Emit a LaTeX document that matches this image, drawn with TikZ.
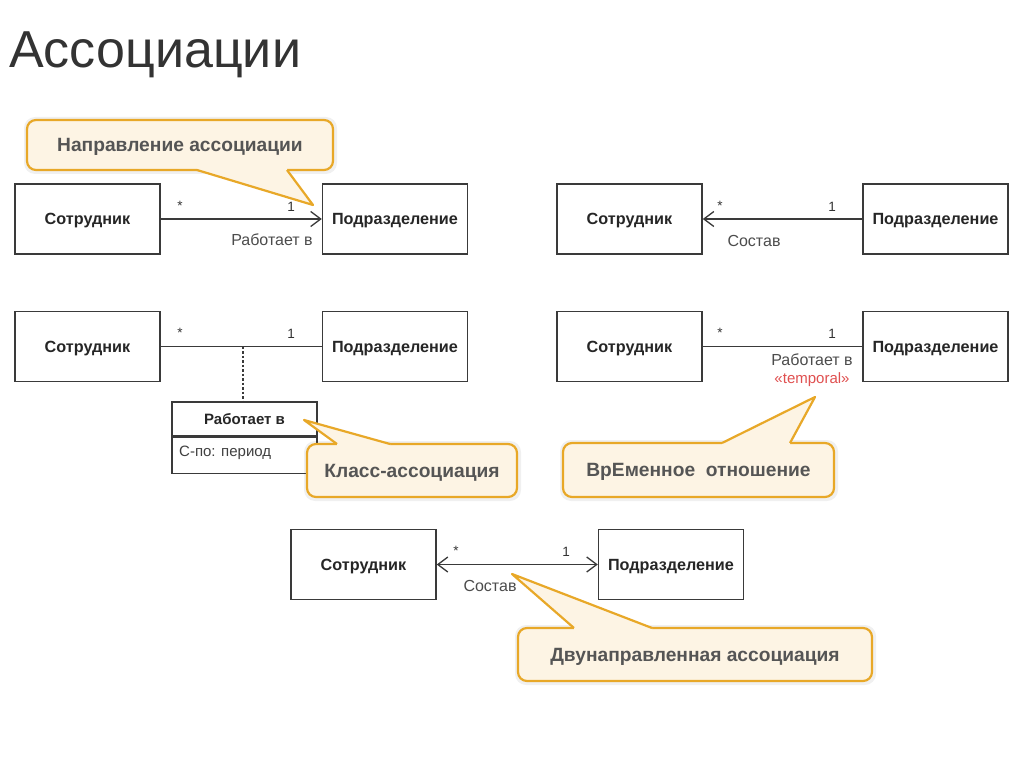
\documentclass[tikz,border=0pt]{standalone}
\usepackage{fontspec}
\setmainfont{Liberation Sans}
\usetikzlibrary{arrows.meta}
\definecolor{lineclr}{HTML}{3A3A3A}
\definecolor{callbd}{HTML}{E8A828}
\definecolor{callfl}{HTML}{FDF4E4}
\definecolor{calltx}{HTML}{555555}
\definecolor{titleclr}{HTML}{333333}
\definecolor{tempred}{HTML}{E05050}
\begin{document}
\begin{tikzpicture}[x=1pt,y=-1pt,
 cls/.style={draw=lineclr, line width=1.5pt, minimum width=145pt, minimum height=70pt, inner sep=0pt, text depth=0pt, font=\fontsize{16.2}{19}\selectfont\bfseries, text=black!85},
 assocline/.style={draw=lineclr, line width=1.4pt},
 navarrow/.style={-{Straight Barb[length=10pt,width=15pt,line width=1.3pt]}},
 bothnav/.style={{Straight Barb[length=10pt,width=15pt,line width=1.3pt]}-{Straight Barb[length=10pt,width=15pt,line width=1.3pt]}},
 lbl/.style={font=\fontsize{16}{19}\selectfont, text=black!70, inner sep=0pt},
 mult/.style={font=\fontsize{13.5}{16}\selectfont, text=black!80, inner sep=0pt},
 callout/.style={draw=callbd, fill=callfl, line width=2.2pt, rounded corners=9pt, inner sep=0pt, text depth=0pt, font=\fontsize{19.2}{23}\selectfont\bfseries, text=calltx},
 ptrfill/.style={fill=callfl},
 ptrline/.style={draw=callbd, line width=2.2pt, line join=round},
 shadowbox/.style={fill=black, opacity=0.06, rounded corners=11pt},
]
\useasboundingbox[fill=white] (0,0) rectangle (1024,767);

% title
\node[anchor=base west, inner sep=0pt, font=\fontsize{52}{60}\selectfont, text=titleclr] (title) at (9,68) {Ассоциации};

% row 1 left
\node[cls] (s1) at (87.5,219) {Сотрудник};
\node[cls] (p1) at (395,219) {Подразделение};
\draw[assocline, navarrow] (s1.east) -- (p1.west);
\node[mult] (s1m) at (180,206) {*};
\node[mult] (p1m) at (291,207) {1};
\node[lbl] (l1) at (272,240) {Работает в};

% row 1 right
\node[cls] (s2) at (629.5,219) {Сотрудник};
\node[cls] (p2) at (935.5,219) {Подразделение};
\draw[assocline, navarrow] (p2.west) -- (s2.east);
\node[mult] (s2m) at (720,206) {*};
\node[mult] (p2m) at (832,207) {1};
\node[lbl] (l2) at (754,241) {Состав};

% row 2 left
\node[cls] (s3) at (87.5,346.5) {Сотрудник};
\node[cls] (p3) at (395,346.5) {Подразделение};
\draw[assocline] (s3.east) -- coordinate[pos=0.51] (m3) (p3.west);
\node[mult] (s3m) at (180,333) {*};
\node[mult] (p3m) at (291,334) {1};
\node[draw=lineclr, line width=1.5pt, minimum width=145pt, minimum height=34pt, inner sep=0pt, text depth=0pt, font=\fontsize{15}{18}\selectfont\bfseries, text=black!85] (ahead) at (244.5,419) {Работает в};
\node[draw=lineclr, line width=1.5pt, minimum width=145pt, minimum height=36pt, inner sep=0pt, anchor=north] (abody) at (ahead.south) {};
\node[lbl, anchor=west, text=black!75, font=\fontsize{15}{18}\selectfont] (aattr) at (179,453) {С-по: период};
\draw[assocline, dashed, dash pattern=on 2.5pt off 2pt] (m3) -- (m3 |- ahead.north);

% row 2 right
\node[cls] (s4) at (629.5,346.5) {Сотрудник};
\node[cls] (p4) at (935.5,346.5) {Подразделение};
\draw[assocline] (s4.east) -- (p4.west);
\node[mult] (s4m) at (720,333) {*};
\node[mult] (p4m) at (832,334) {1};
\node[lbl] (l4) at (812,360) {Работает в};
\node[lbl, text=tempred, font=\fontsize{15}{18}\selectfont] (t4) at (812,380) {«temporal»};

% row 3
\node[cls] (s5) at (363.5,564.5) {Сотрудник};
\node[cls] (p5) at (671,564.5) {Подразделение};
\draw[assocline, bothnav] (s5.east) -- (p5.west);
\node[mult] (s5m) at (456,551) {*};
\node[mult] (p5m) at (566,552) {1};
\node[lbl] (l5) at (490,586) {Состав};

% callout 1
\fill[shadowbox] (24,117) rectangle (337,174);
\node[callout, minimum width=306pt, minimum height=50pt] (c1) at (180,145) {Направление ассоциации};
\fill[ptrfill] (197,170) -- (313,205) -- (287,170) -- (287,167) -- (197,167) -- cycle;
\draw[ptrline] (197,170) -- (313,205) -- (287,170);

% callout 2
\fill[shadowbox] (304,441) rectangle (521,501);
\node[callout, minimum width=210pt, minimum height=53pt] (c2) at (412,470.5) {Класс-ассоциация};
\fill[ptrfill] (337,444) -- (304,420) -- (390,444) -- (390,447) -- (337,447) -- cycle;
\draw[ptrline] (337,444) -- (304,420) -- (390,444);

% callout 3
\fill[shadowbox] (560,440) rectangle (838,501);
\node[callout, minimum width=271pt, minimum height=54pt] (c3) at (698.5,470) {ВрЕменное\ \ отношение};
\fill[ptrfill] (722,443) -- (815,397) -- (790,443) -- (790,446) -- (722,446) -- cycle;
\draw[ptrline] (722,443) -- (815,397) -- (790,443);

% callout 4
\fill[shadowbox] (515,625) rectangle (876,685);
\node[callout, minimum width=354pt, minimum height=53pt] (c4) at (695,654.5) {Двунаправленная ассоциация};
\fill[ptrfill] (574,628) -- (512,574) -- (652,628) -- (652,631) -- (574,631) -- cycle;
\draw[ptrline] (574,628) -- (512,574) -- (652,628);
\end{tikzpicture}
\end{document}
